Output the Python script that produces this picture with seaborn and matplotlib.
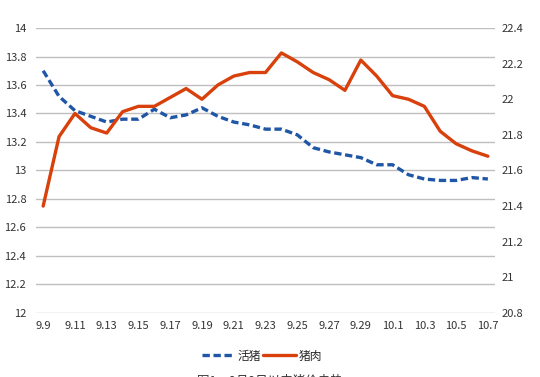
import pandas as pd
import seaborn as sns
import matplotlib.pyplot as plt

# 日期
dates = ['9.9', '9.10', '9.11', '9.12', '9.13', '9.14', '9.15', '9.16', '9.17', '9.18',
         '9.19', '9.20', '9.21', '9.22', '9.23', '9.24', '9.25', '9.26', '9.27', '9.28',
         '9.29', '9.30', '10.1', '10.2', '10.3', '10.4', '10.5', '10.6', '10.7']

# 活猪 (左轴)
live_pig = [13.70, 13.52, 13.42, 13.38, 13.34, 13.36, 13.36, 13.43, 13.37, 13.39,
            13.44, 13.38, 13.34, 13.32, 13.29, 13.29, 13.25, 13.16, 13.13, 13.11,
            13.09, 13.04, 13.04, 12.97, 12.94, 12.93, 12.93, 12.95, 12.94]

# 猪肉 (右轴)
pork = [21.40, 21.79, 21.92, 21.84, 21.81, 21.93, 21.96, 21.96, 22.01, 22.06,
        22.00, 22.08, 22.13, 22.15, 22.15, 22.26, 22.21, 22.15, 22.11, 22.05,
        22.22, 22.13, 22.02, 22.00, 21.96, 21.82, 21.75, 21.71, 21.68]

left_ticks = [12, 12.2, 12.4, 12.6, 12.8, 13, 13.2, 13.4, 13.6, 13.8, 14]
right_ticks = [20.8, 21, 21.2, 21.4, 21.6, 21.8, 22, 22.2, 22.4]

df = pd.DataFrame({'date': dates, '活猪': live_pig, '猪肉': pork})
df['pos'] = range(len(df))

sns.set_style('white')
plt.rcParams['font.family'] = ['Noto Sans CJK SC', 'DejaVu Sans']

fig = plt.figure(figsize=(5.4, 3.77), dpi=100)
ax = fig.add_axes([0.0667, 0.170, 0.85, 0.7557])
ax2 = ax.twinx()

blue = '#1F56A6'
red = '#D8400C'

sns.lineplot(ax=ax, data=df, x='pos', y='活猪', color=blue, lw=2.4,
             linestyle=(0, (2.2, 1.1)), label='活猪', legend=False)
sns.lineplot(ax=ax2, data=df, x='pos', y='猪肉', color=red, lw=2.4,
             label='猪肉', legend=False)

ax.set_xlim(-0.45, len(dates) - 1 + 0.45)
ax.set_ylim(12, 14)
ax2.set_ylim(20.8, 22.4)
ax.set_yticks(left_ticks)
ax.set_yticklabels([f'{t:g}' for t in left_ticks])
ax2.set_yticks(right_ticks)
ax2.set_yticklabels([f'{t:g}' for t in right_ticks])
ax.set_xticks(df['pos'][::2])
ax.set_xticklabels(df['date'][::2])

ax.grid(axis='y', color='#BFBFBF', lw=1)
ax.set_axisbelow(True)
for a in (ax, ax2):
    for s in a.spines.values():
        s.set_visible(False)
    a.set_xlabel('')
    a.set_ylabel('')
ax.tick_params(axis='y', length=0, pad=7, labelsize=8, colors='#333333')
ax.tick_params(axis='x', length=0, pad=6, labelsize=8, colors='#333333')
ax2.tick_params(axis='y', length=0, pad=5, labelsize=8, colors='#333333')

h1, l1 = ax.get_legend_handles_labels()
h2, l2 = ax2.get_legend_handles_labels()
fig.legend(h1 + h2, l1 + l2, loc='center', bbox_to_anchor=(262 / 540, 1 - 356 / 377),
           ncol=2, frameon=False, fontsize=8.5, handlelength=2.8,
           handletextpad=0.2, columnspacing=0.2)

fig.text(0.5, -0.012, '图1：9月9日以来猪价走势', ha='center', va='center',
         fontsize=9, color='#333333')

plt.savefig('out.png', dpi=100)
